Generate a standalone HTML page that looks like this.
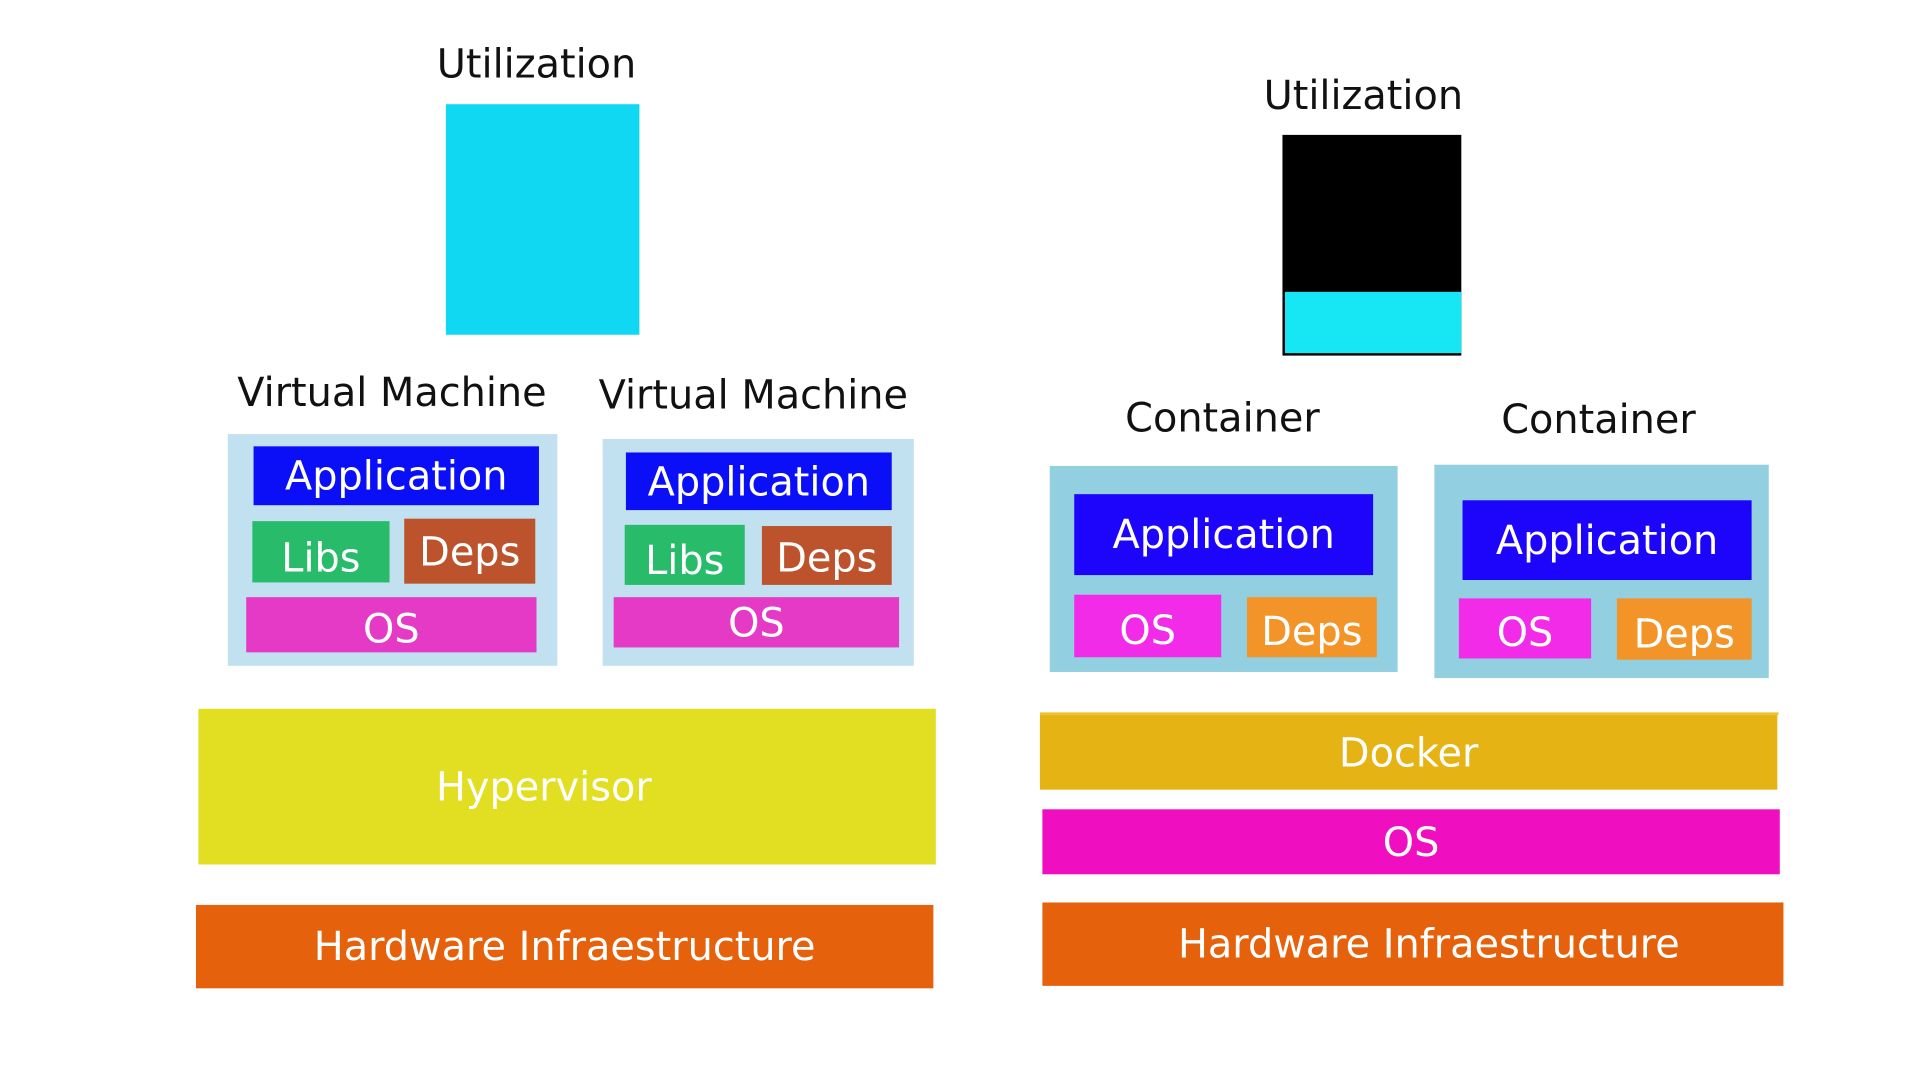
<!DOCTYPE html>
<html><head><meta charset="utf-8"><style>
html,body{margin:0;padding:0;background:#fff;width:1920px;height:1080px;overflow:hidden}
#w{position:absolute;left:0;top:0;width:1560px;height:878px;transform:scale(1.2249,1.2262);transform-origin:0 0;font-family:"DejaVu Sans","Liberation Sans",sans-serif}
.r{position:absolute;display:flex;align-items:center;justify-content:center;color:#fff;font-size:32.5px;box-sizing:border-box}
.t{position:absolute;color:#111;font-size:32.5px;transform:translate(-50%,-50%);white-space:nowrap}
</style></head><body><div id="w">
<div class="t" style="left:438px;top:52px">Utilization</div>
<div class="r" style="left:364px;top:85px;width:158px;height:188px;background:#10d8f2"></div>
<div class="t" style="left:1113px;top:78px">Utilization</div>
<div class="r" style="left:1047px;top:110px;width:146px;height:180px;background:#000"></div>
<div class="r" style="left:1049px;top:238px;width:144px;height:50px;background:#17e6f4"></div>

<div class="t" style="left:320px;top:320px">Virtual Machine</div>
<div class="r" style="left:186px;top:354px;width:269px;height:189px;background:#c1e1f1"></div>
<div class="r" style="left:207px;top:364px;width:233px;height:48px;background:#0a0ff7">Application</div>
<div class="r" style="left:206px;top:425px;width:112px;height:50px;background:#27bb6a;padding-top:10px">Libs</div>
<div class="r" style="left:330px;top:423px;width:107px;height:53px;background:#bc532c">Deps</div>
<div class="r" style="left:201px;top:487px;width:237px;height:45px;background:#e53ac6;padding-top:6px">OS</div>

<div class="t" style="left:615px;top:322px">Virtual Machine</div>
<div class="r" style="left:492px;top:358px;width:254px;height:185px;background:#c1e1f1"></div>
<div class="r" style="left:511px;top:369px;width:217px;height:47px;background:#0a0ff7">Application</div>
<div class="r" style="left:510px;top:428px;width:98px;height:49px;background:#27bb6a;padding-top:8px">Libs</div>
<div class="r" style="left:622px;top:429px;width:106px;height:48px;background:#bc532c;padding-top:4px">Deps</div>
<div class="r" style="left:501px;top:487px;width:233px;height:41px;background:#e53ac6">OS</div>

<div class="t" style="left:998px;top:341px">Container</div>
<div class="r" style="left:857px;top:380px;width:284px;height:168px;background:#92cfe1"></div>
<div class="r" style="left:877px;top:403px;width:244px;height:66px;background:#1d05fb">Application</div>
<div class="r" style="left:877px;top:485px;width:120px;height:51px;background:#f22be9;padding-top:6px">OS</div>
<div class="r" style="left:1018px;top:487px;width:106px;height:49px;background:#f39428;padding-top:6px">Deps</div>

<div class="t" style="left:1305px;top:342px">Container</div>
<div class="r" style="left:1171px;top:379px;width:273px;height:174px;background:#92cfe1"></div>
<div class="r" style="left:1194px;top:408px;width:236px;height:65px;background:#1d05fb">Application</div>
<div class="r" style="left:1191px;top:488px;width:108px;height:49px;background:#f22be9;padding-top:6px">OS</div>
<div class="r" style="left:1320px;top:488px;width:110px;height:50px;background:#f39428;padding-top:8px">Deps</div>

<div class="r" style="left:162px;top:578px;width:602px;height:127px;background:#e2de21;padding-right:38px">Hypervisor</div>
<div class="r" style="left:160px;top:738px;width:602px;height:68px;background:#e6610b">Hardware Infraestructure</div>

<div class="r" style="left:849px;top:581px;width:603px;height:2px;background:#f0c020"></div>
<div class="r" style="left:849px;top:583px;width:602px;height:61px;background:#e5b313">Docker</div>
<div class="r" style="left:851px;top:660px;width:602px;height:53px;background:#f00fc0">OS</div>
<div class="r" style="left:851px;top:736px;width:605px;height:68px;background:#e6610b;padding-left:26px">Hardware Infraestructure</div>
</div></body></html>
